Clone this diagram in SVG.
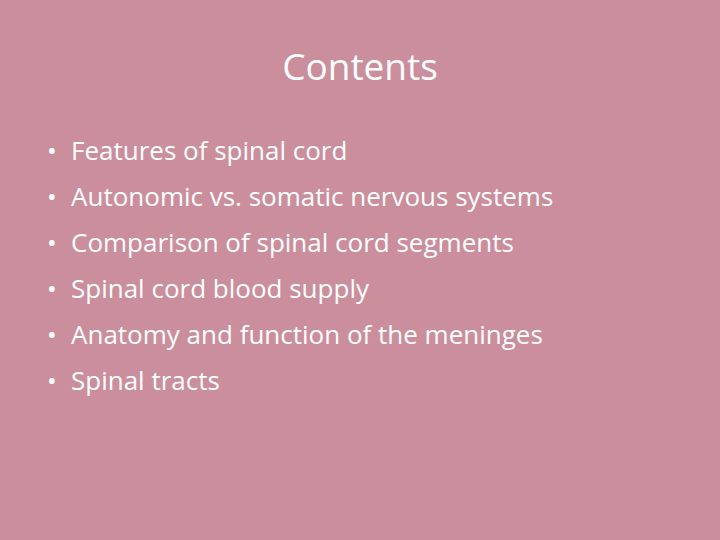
<svg xmlns="http://www.w3.org/2000/svg" width="720" height="540" viewBox="0 0 720 540">
<style>
text{font-family:"Open Sans","Liberation Sans",sans-serif;fill:#fff}
.b{font-size:26px}
</style>
<rect width="720" height="540" fill="#CB8E9C"/>
<g id="title"><text x="360" y="80" font-size="37" text-anchor="middle">Contents</text></g>
<g id="list" class="b">
<text x="47" y="160" class="b">•</text><text x="71" y="160" class="b">Features of spinal cord</text>
<text x="47" y="206" class="b">•</text><text x="71" y="206" class="b">Autonomic vs. somatic nervous systems</text>
<text x="47" y="252" class="b">•</text><text x="71" y="252" class="b">Comparison of spinal cord segments</text>
<text x="47" y="298" class="b">•</text><text x="71" y="298" class="b">Spinal cord blood supply</text>
<text x="47" y="344" class="b">•</text><text x="71" y="344" class="b">Anatomy and function of the meninges</text>
<text x="47" y="390" class="b">•</text><text x="71" y="390" class="b">Spinal tracts</text>
</g>
</svg>
